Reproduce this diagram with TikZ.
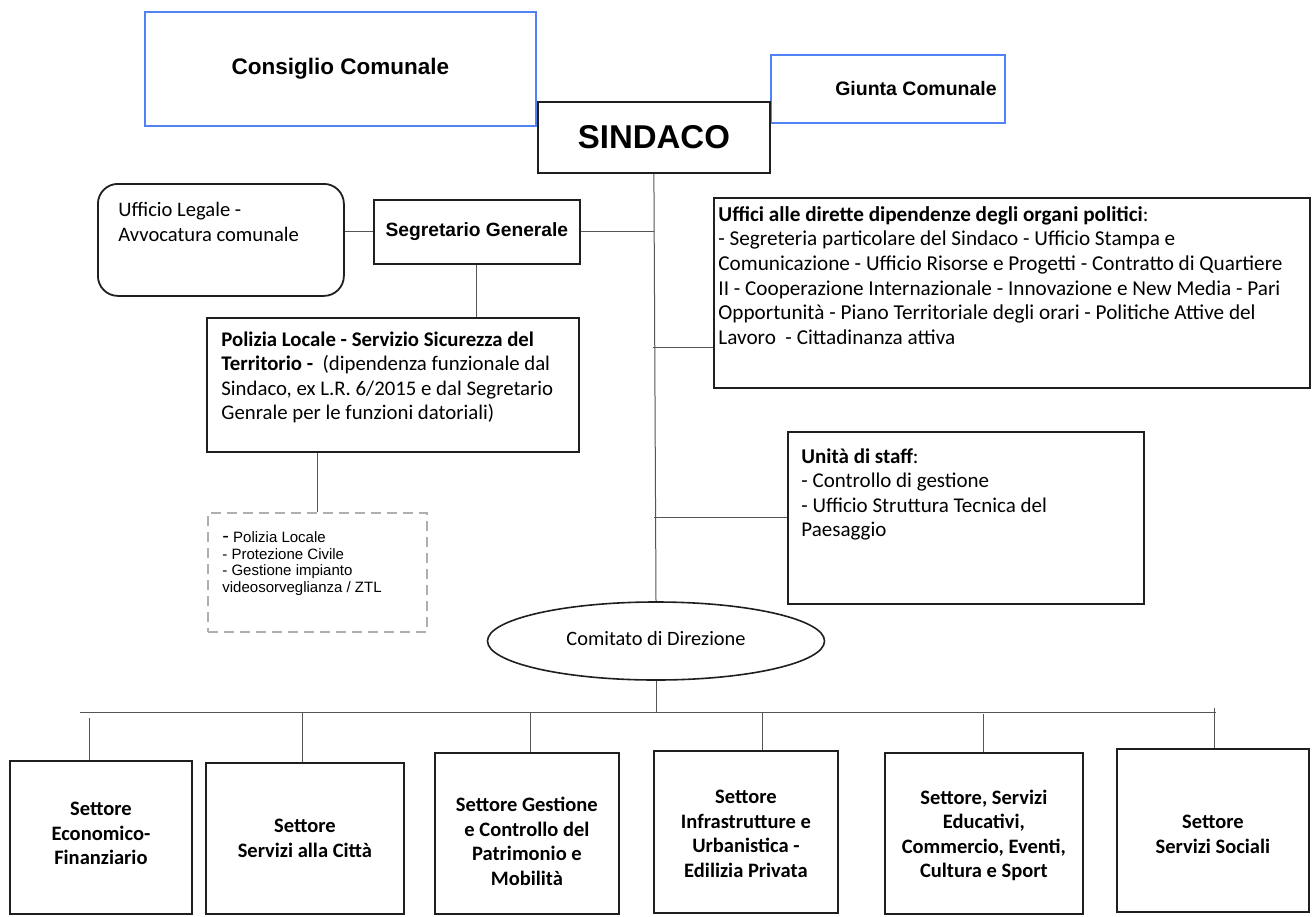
\documentclass[tikz,border=0pt]{standalone}
\usepackage{fontspec}
\setmainfont{Carlito}
\newfontfamily\arialf{Liberation Sans}
\usetikzlibrary{shapes.geometric}
\definecolor{bluebox}{RGB}{80,130,245}
\definecolor{linegray}{RGB}{85,85,85}
\definecolor{dashgray}{RGB}{175,175,175}
\begin{document}
\begin{tikzpicture}[x=0.5pt,y=-0.5pt,
  box/.style={draw=black!88, line width=0.9pt, rectangle, inner sep=0pt, anchor=north west},
  bluebx/.style={draw=bluebox, line width=0.8pt, rectangle, inner sep=0pt, anchor=north west},
  conn/.style={draw=linegray, line width=0.5pt},
  txt/.style={inner sep=0pt, anchor=north west, align=left, font=\fontsize{#1}{12.3}\selectfont},
  secttxt/.style={inner sep=0pt, align=center, font=\bfseries\fontsize{10.25}{12.3}\selectfont},
  arialbold/.style={font=\arialf\bfseries\fontsize{#1}{#1}\selectfont},
]
\useasboundingbox (0,0) rectangle (1312,916);

% top level
\node[bluebx, minimum width=195.5pt, minimum height=57pt, arialbold=11.25] (consiglio) at (144,11) {Consiglio Comunale};
\node[bluebx, minimum width=117pt, minimum height=34pt] (giunta) at (770,54) {};
\node[inner sep=0pt, arialbold=9.75] (giuntat) at (916,89) {Giunta Comunale};
\node[box, minimum width=116pt, minimum height=35.5pt, arialbold=16.5] (sindaco) at (537,101) {SINDACO};

% left column
\node[box, rounded corners=10pt, minimum width=123pt, minimum height=56pt] (legale) at (97,183) {};
\node[txt=10.3] (legalet) at (118,202) {Ufficio Legale -\\Avvocatura comunale};
\node[box, minimum width=103pt, minimum height=32pt, arialbold=9.6] (segretario) at (373,199) {Segretario Generale};
\node[box, minimum width=186pt, minimum height=67pt] (polizia) at (206,317) {};
\node[txt=10.4] (poliziat) at (221,331) {\textbf{Polizia Locale - Servizio Sicurezza del}\\\textbf{Territorio -}\ \ (dipendenza funzionale dal\\Sindaco, ex L.R. 6/2015 e dal Segretario\\Genrale per le funzioni datoriali)};
\node[draw=dashgray, line width=1pt, dash pattern=on 5pt off 3pt, rectangle, inner sep=0pt, anchor=north west, minimum width=109.5pt, minimum height=59.5pt] (dashbox) at (207,512) {};
\node[inner sep=0pt, anchor=north west, align=left, font=\arialf\fontsize{7.5}{8.4}\selectfont] (dasht) at (222,531) {{\fontsize{10}{8}\selectfont -} Polizia Locale\\- Protezione Civile\\- Gestione impianto\\videosorveglianza / ZTL};

% right column
\node[box, minimum width=298pt, minimum height=95pt] (uffici) at (713,197) {};
\node[txt=10.6] (ufficit) at (718,206) {\textbf{Uffici alle dirette dipendenze degli organi politici}:\\- Segreteria particolare del Sindaco - Ufficio Stampa e\\Comunicazione - Ufficio Risorse e Progetti - Contratto di Quartiere\\II - Cooperazione Internazionale - Innovazione e New Media - Pari\\Opportunità - Piano Territoriale degli orari - Politiche Attive del\\Lavoro\ \ - Cittadinanza attiva};
\node[box, minimum width=178pt, minimum height=86pt] (unita) at (787,431) {};
\node[txt=10.5] (unitat) at (801,448) {\textbf{Unità di staff}:\\- Controllo di gestione\\- Ufficio Struttura Tecnica del\\Paesaggio};

% comitato
\node[draw=black!88, line width=0.8pt, ellipse, minimum width=168.5pt, minimum height=39pt, inner sep=0pt] (comitato) at (656,641) {};
\node[inner sep=0pt, font=\fontsize{10.2}{12.3}\selectfont] (comitatot) at ([yshift=1.5pt]comitato.center) {Comitato di Direzione};

% settori
\node[box, minimum width=91pt, minimum height=76.5pt] (b1) at (9,760) {};
\node[box, minimum width=99pt, minimum height=75.5pt] (b2) at (205,762) {};
\node[box, minimum width=92pt, minimum height=80.5pt] (b3) at (434,752) {};
\node[box, minimum width=92pt, minimum height=81pt] (b4) at (653,750) {};
\node[box, minimum width=99pt, minimum height=80.5pt] (b5) at (884,752) {};
\node[box, minimum width=96pt, minimum height=81.5pt] (b6) at (1116,748) {};
\node[secttxt] (b1t) at ([yshift=2pt]b1.center) {Settore\\Economico-\\Finanziario};
\node[secttxt] (b2t) at (b2.center) {Settore\\Servizi alla Città};
\node[secttxt] (b3t) at ([yshift=-4pt]b3.center) {Settore Gestione\\e Controllo del\\Patrimonio e\\Mobilità};
\node[secttxt] (b4t) at ([yshift=-1pt]b4.center) {Settore\\Infrastrutture e\\Urbanistica -\\Edilizia Privata};
\node[secttxt] (b5t) at ([yshift=-1pt]b5.center) {Settore, Servizi\\Educativi,\\Commercio, Eventi,\\Cultura e Sport};
\node[secttxt] (b6t) at ([yshift=-2pt]b6.center) {Settore\\Servizi Sociali};

% connectors
\draw[conn] (sindaco.south) -- (comitato.north);
\draw[conn] (segretario.west) -- (segretario.west -| legale.east);
\draw[conn] (segretario.east) -- (segretario.east -| sindaco.south);
\draw[conn] (segretario.south) -- (segretario.south |- polizia.north);
\draw[conn] (dashbox.north) -- (dashbox.north |- polizia.south);
\coordinate (j1) at (653,347);
\draw[conn] (j1) -- (j1 -| uffici.west);
\draw[conn] (unita.west) -- (unita.west -| sindaco.south);

\coordinate (busL) at (80,712);
\coordinate (busR) at (1216,712);
\draw[conn] (comitato.south) -- (comitato.south |- busL);
\draw[conn] (busL) -- (busR);
\coordinate (d1) at (89,718);
\coordinate (d2) at (302,712);
\coordinate (d3) at (530,712);
\coordinate (d4) at (762,712);
\coordinate (d5) at (983,714);
\coordinate (d6) at (1214,708);
\draw[conn] (d1) -- (d1 |- b1.north);
\draw[conn] (d2) -- (d2 |- b2.north);
\draw[conn] (d3) -- (d3 |- b3.north);
\draw[conn] (d4) -- (d4 |- b4.north);
\draw[conn] (d5) -- (d5 |- b5.north);
\draw[conn] (d6) -- (d6 |- b6.north);
\end{tikzpicture}
\end{document}
